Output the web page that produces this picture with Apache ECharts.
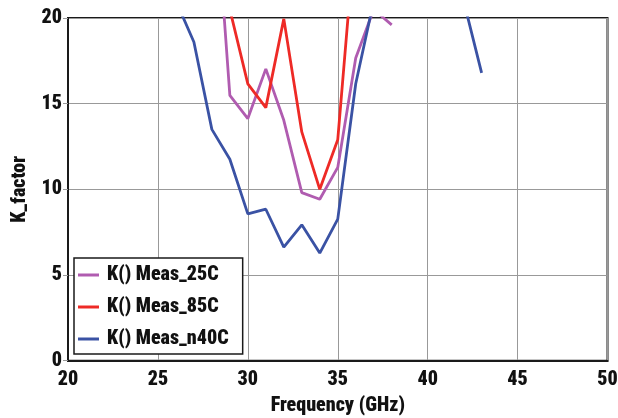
<!DOCTYPE html>
<html>
<head>
<meta charset="utf-8">
<script src="https://cdn.jsdelivr.net/npm/echarts@6/dist/echarts.min.js"></script>
<style>
html,body{margin:0;padding:0;background:#fff;}
#c{width:618px;height:418px;}
</style>
</head>
<body>
<div id="c"></div>
<script>
// Data (frequency in GHz, K factor)
const freqs = [26, 27, 28, 29, 30, 31, 32, 33, 34, 35, 36, 37, 38, 39, 40, 41, 42, 43];
const k25C  = [null, null, 30, 15.48, 14.13, 17.03, 14.03, 9.81, 9.42, 11.28, 17.67, 20.5, 19.6, null, null, null, null, null];
const k85C  = [null, null, null, 20.5, 16.16, 14.77, 19.95, 13.35, 10.0, 12.9, 25.4, null, null, null, null, null, null, null];
const kn40C = [21, 18.6, 13.5, 11.76, 8.57, 8.84, 6.63, 7.93, 6.28, 8.26, 16.16, 21, null, null, null, null, 21, 16.8];
const seriesNames = ['K() Meas_25C', 'K() Meas_85C', 'K() Meas_n40C'];
const xTicks = [20, 25, 30, 35, 40, 45, 50];
const yTicks = [0, 5, 10, 15, 20];

const FONT = "'Roboto Condensed', 'Open Sans Condensed', sans-serif";
const FW = 900;
const colors = ['#b05cb0', '#ee2a26', '#3a52a4'];

function pairs(vals){ return freqs.map((f,i)=>[f, vals[i]]); }

const chart = echarts.init(document.getElementById('c'), null, {renderer:'canvas'});
const mk = (name, vals, color) => ({
  name, type:'line', data: pairs(vals), showSymbol:false, symbol:'none',
  lineStyle:{color, width:2.8}, itemStyle:{color}, clip:true, connectNulls:false,
  animation:false
});
chart.setOption({
  animation:false,
  grid:{left:68, right:10.5, top:18, bottom:57.3, outerBoundsMode:'none', containLabel:false,
        show:true, borderColor:'#1a1a1a', borderWidth:2, backgroundColor:'transparent'},
  xAxis:{
    type:'value', min:xTicks[0], max:xTicks[xTicks.length-1], interval:5,
    name:'Frequency (GHz)', nameLocation:'middle', nameGap:35,
    nameTextStyle:{fontFamily:FONT, fontWeight:FW, fontSize:20, color:'#111'},
    axisLine:{show:true, lineStyle:{color:'#1a1a1a', width:2}},
    axisTick:{show:false},
    axisLabel:{fontFamily:FONT, fontWeight:FW, fontSize:20, color:'#111', margin:9},
    splitLine:{show:true, lineStyle:{color:'#999', width:1}}
  },
  yAxis:{
    type:'value', min:yTicks[0], max:yTicks[yTicks.length-1], interval:5,
    name:'K_factor', nameLocation:'middle', nameGap:38, nameRotate:90,
    nameTextStyle:{fontFamily:FONT, fontWeight:FW, fontSize:20, color:'#111'},
    axisLine:{show:true, lineStyle:{color:'#1a1a1a', width:2}},
    axisTick:{show:true, length:5, lineStyle:{color:'#999'}},
    axisLabel:{fontFamily:FONT, fontWeight:FW, fontSize:20, color:'#111', margin:6},
    splitLine:{show:true, lineStyle:{color:'#999', width:1}}
  },
  legend:{
    orient:'vertical', left:74, top:258,
    data: seriesNames.map((n,i)=>({name:n, icon:'rect', itemStyle:{color:colors[i]}})),
    itemWidth:21, itemHeight:3, itemGap:12,
    padding:[7,14,5,4],
    backgroundColor:'#fff', borderColor:'#1a1a1a', borderWidth:1.5,
    textStyle:{fontFamily:FONT, fontWeight:FW, fontSize:20, color:'#111', lineHeight:20, padding:[0,0,0,3]}
  },
  series:[
    mk(seriesNames[0], k25C, colors[0]),
    mk(seriesNames[1], k85C, colors[1]),
    mk(seriesNames[2], kn40C, colors[2])
  ]
});
</script>
</body>
</html>
